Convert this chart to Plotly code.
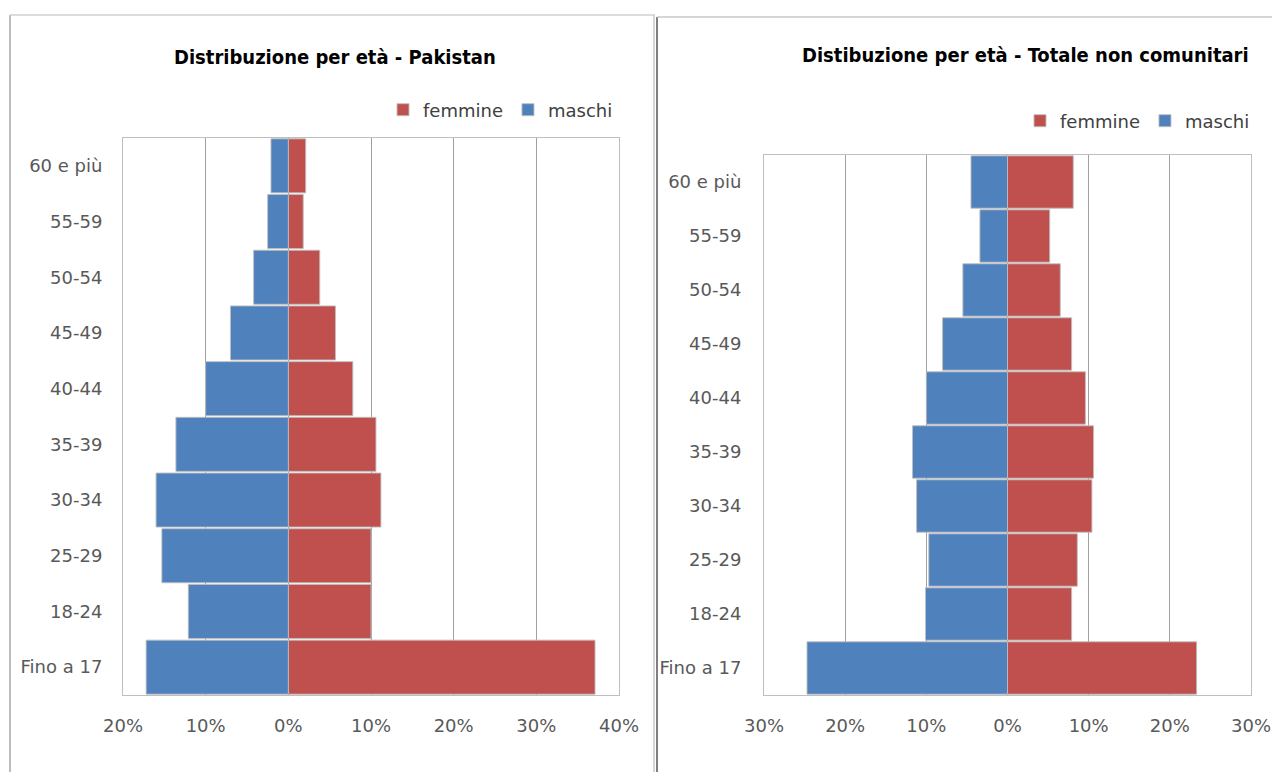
import plotly.graph_objects as go

# ---- data ----
categories = ["Fino a 17", "18-24", "25-29", "30-34", "35-39", "40-44",
              "45-49", "50-54", "55-59", "60 e più"]

pak_maschi = [17.2, 12.1, 15.3, 16.0, 13.6, 10.0, 7.0, 4.2, 2.5, 2.1]
pak_femmine = [37.1, 10.0, 10.0, 11.2, 10.6, 7.8, 5.7, 3.8, 1.8, 2.1]

tot_maschi = [24.7, 10.1, 9.7, 11.2, 11.7, 10.0, 8.0, 5.5, 3.4, 4.5]
tot_femmine = [23.3, 7.9, 8.6, 10.4, 10.6, 9.6, 7.9, 6.5, 5.2, 8.1]

pak_ticks = [-20, -10, 0, 10, 20, 30, 40]
pak_ticktext = ["20%", "10%", "0%", "10%", "20%", "30%", "40%"]
tot_ticks = [-30, -20, -10, 0, 10, 20, 30]
tot_ticktext = ["30%", "20%", "10%", "0%", "10%", "20%", "30%"]

title_left = "Distribuzione per età - Pakistan"
title_right = "Distibuzione per età - Totale non comunitari"

RED = "#C0504D"
BLUE = "#4F81BD"
EDGE = "rgba(190,190,190,0.9)"
FONT = "DejaVu Sans, Liberation Sans, Arial, sans-serif"
TITLE_FONT = "Liberation Sans Narrow, DejaVu Sans Condensed, Liberation Sans, Arial"

# page has an 8px body margin; coordinates below are page pixels
OFF = 8
W, H = 1264, 764


def px(x):
    return (x - OFF) / W


def py(y):
    return 1 - (y - OFF) / H


fig = go.Figure()


def add_pair(fem, mas, xaxis, yaxis, legend):
    fig.add_trace(go.Bar(y=categories, x=fem, orientation="h", name="femmine",
                         marker=dict(color=RED, line=dict(color=EDGE, width=1)),
                         xaxis=xaxis, yaxis=yaxis, legend=legend))
    fig.add_trace(go.Bar(y=categories, x=[-v for v in mas], orientation="h", name="maschi",
                         marker=dict(color=BLUE, line=dict(color=EDGE, width=1)),
                         xaxis=xaxis, yaxis=yaxis, legend=legend))


add_pair(pak_femmine, pak_maschi, "x", "y", "legend")
add_pair(tot_femmine, tot_maschi, "x2", "y2", "legend2")

axis_common = dict(showline=True, linecolor="#BFBFBF", linewidth=1, mirror=True,
                   tickfont=dict(family=FONT, size=18, color="#595959"),
                   zeroline=False, fixedrange=True, automargin=False,
                   ticklabeloverflow="allow")

legend_common = dict(orientation="h", yanchor="middle", xanchor="left",
                     font=dict(family=FONT, size=18, color="#404040"), itemwidth=30,
                     traceorder="normal", bgcolor="rgba(0,0,0,0)")

fig.update_layout(
    width=W, height=H, autosize=False,
    margin=dict(l=0, r=0, t=0, b=0, pad=0),
    paper_bgcolor="white", plot_bgcolor="white",
    barmode="overlay", bargap=0.03,
    font=dict(family=FONT, color="#404040"),
    xaxis=dict(domain=[px(123), px(619)], anchor="y", range=[-20, 40],
               tickvals=pak_ticks, ticktext=pak_ticktext,
               showgrid=True, gridcolor="#A0A0A0", gridwidth=1,
               ticklabelstandoff=14, **axis_common),
    yaxis=dict(domain=[py(695), py(138)], anchor="x",
               type="category", categoryorder="array", categoryarray=categories,
               showgrid=False, ticklabelstandoff=16, **axis_common),
    xaxis2=dict(domain=[px(764), px(1251)], anchor="y2", range=[-30, 30],
                tickvals=tot_ticks, ticktext=tot_ticktext,
                showgrid=True, gridcolor="#A0A0A0", gridwidth=1,
                ticklabelstandoff=14, **axis_common),
    yaxis2=dict(domain=[py(695), py(155)], anchor="x2",
                type="category", categoryorder="array", categoryarray=categories,
                showgrid=False, ticklabelstandoff=18, **axis_common),
    legend=dict(x=px(383), y=py(110), **legend_common),
    legend2=dict(x=px(1020), y=py(121), **legend_common),
    showlegend=True,
    annotations=[
        dict(text="<b>" + title_left + "</b>", x=px(335), y=py(57), xref="paper", yref="paper",
             xanchor="center", yanchor="middle",
             showarrow=False, font=dict(family=TITLE_FONT, size=20, color="#000000")),
        dict(text="<b>" + title_right + "</b>", x=px(1025), y=py(55), xref="paper", yref="paper",
             xanchor="center", yanchor="middle",
             showarrow=False, font=dict(family=TITLE_FONT, size=20, color="#000000")),
    ],
    shapes=[
        # left chart frame
        dict(type="line", xref="paper", yref="paper", x0=px(10), x1=px(10), y0=0, y1=py(15),
             line=dict(color="#A6A6A6", width=1.5)),
        dict(type="line", xref="paper", yref="paper", x0=px(10), x1=px(655), y0=py(15), y1=py(15),
             line=dict(color="#D0D0D0", width=1.5)),
        dict(type="line", xref="paper", yref="paper", x0=px(654), x1=px(654), y0=0, y1=py(15),
             line=dict(color="#C8C8C8", width=1.5)),
        # right chart frame
        dict(type="line", xref="paper", yref="paper", x0=px(657), x1=px(657), y0=0, y1=py(17),
             line=dict(color="#7F7F7F", width=2)),
        dict(type="line", xref="paper", yref="paper", x0=px(657), x1=1, y0=py(17), y1=py(17),
             line=dict(color="#C8C8C8", width=1.5)),
    ],
)

fig.write_html("out.html")
